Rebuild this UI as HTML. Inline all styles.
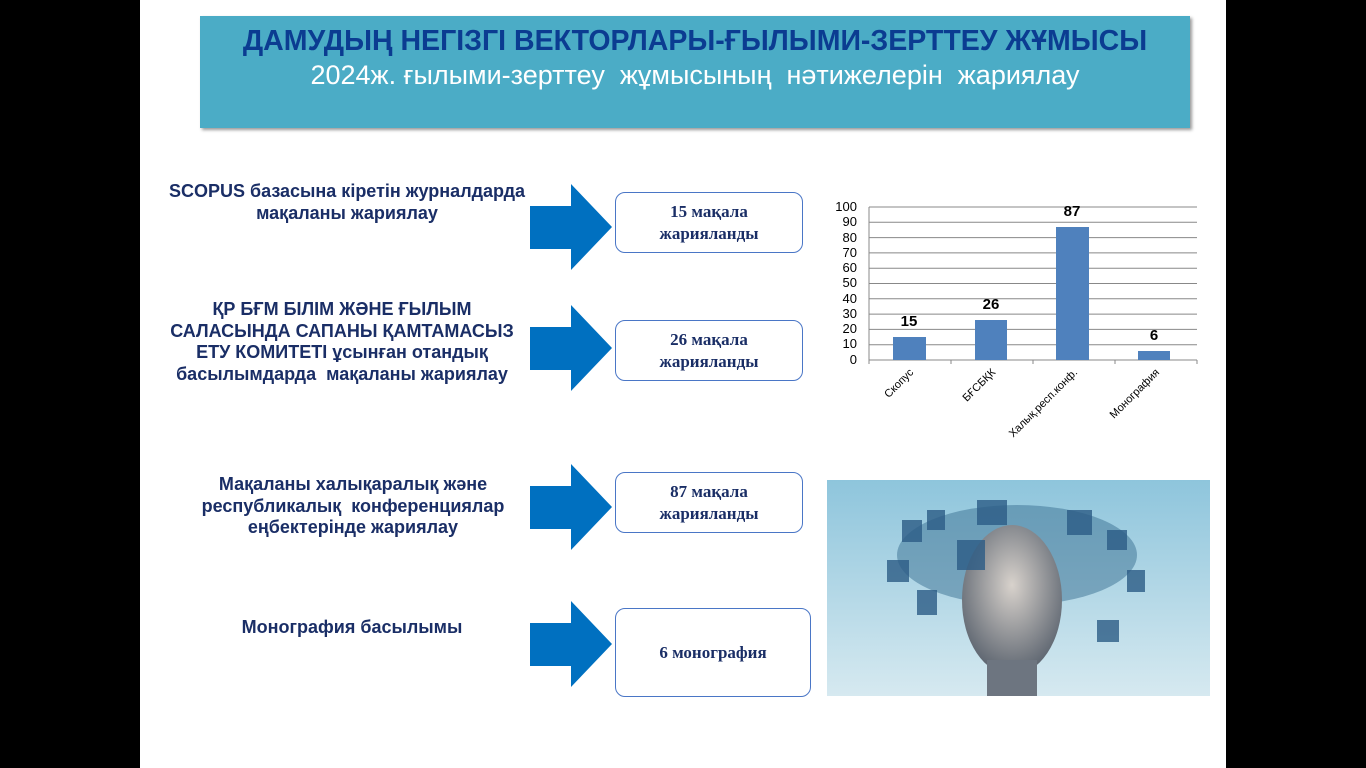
<!DOCTYPE html>
<html><head><meta charset="utf-8"><style>
body{margin:0;width:1366px;height:768px;background:#000;position:relative;overflow:hidden;font-family:"Liberation Sans",sans-serif}
#slide{position:absolute;left:140px;top:0;width:1086px;height:768px;background:#fff}
.hdr{position:absolute;left:200px;top:16px;width:990px;height:112px;background:#4bacc6;box-shadow:2px 2px 3px #999;text-align:center}
.t1{color:#0b3c91;font-weight:bold;font-size:28.5px;margin-top:9px;line-height:32px;white-space:nowrap}
.t2{color:#fff;font-size:27px;line-height:36px;white-space:nowrap}
.lbl{position:absolute;color:#1a2e66;font-weight:bold;font-size:18px;text-align:center;line-height:21.5px;white-space:nowrap}
.box{position:absolute;border:1px solid #4a76c6;border-radius:10px;background:#fff;display:flex;align-items:center;justify-content:center;text-align:center;font-family:"Liberation Serif",serif;font-weight:bold;font-size:17px;color:#1a2e66;line-height:22px}
.arr{position:absolute;left:530px}
</style></head><body>
<div id="slide"></div>
<div class="hdr"><div class="t1">ДАМУДЫҢ НЕГІЗГІ ВЕКТОРЛАРЫ-ҒЫЛЫМИ-ЗЕРТТЕУ ЖҰМЫСЫ</div><div class="t2">2024ж. ғылыми-зерттеу&nbsp; жұмысының&nbsp; нәтижелерін&nbsp; жариялау</div></div>

<div class="lbl" style="left:147px;top:181px;width:400px">SCOPUS базасына кіретін журналдарда<br>мақаланы жариялау</div>
<div class="lbl" style="left:142px;top:299px;width:400px">ҚР БҒМ БІЛІМ ЖӘНЕ ҒЫЛЫМ<br>САЛАСЫНДА САПАНЫ ҚАМТАМАСЫЗ<br>ЕТУ КОМИТЕТІ ұсынған отандық<br>басылымдарда&nbsp; мақаланы жариялау</div>
<div class="lbl" style="left:153px;top:474px;width:400px">Мақаланы халықаралық және<br>республикалық&nbsp; конференциялар<br>еңбектерінде жариялау</div>
<div class="lbl" style="left:152px;top:617px;width:400px">Монография басылымы</div>

<svg class="arr" style="top:184px" width="84" height="87"><polygon points="0,22 41,22 41,0 82,43 41,86 41,65 0,65" fill="#0070c0"/></svg>
<svg class="arr" style="top:305px" width="84" height="87"><polygon points="0,22 41,22 41,0 82,43 41,86 41,65 0,65" fill="#0070c0"/></svg>
<svg class="arr" style="top:464px" width="84" height="87"><polygon points="0,22 41,22 41,0 82,43 41,86 41,65 0,65" fill="#0070c0"/></svg>
<svg class="arr" style="top:601px" width="84" height="87"><polygon points="0,22 41,22 41,0 82,43 41,86 41,65 0,65" fill="#0070c0"/></svg>

<div class="box" style="left:615px;top:192px;width:186px;height:59px">15 мақала<br>жарияланды</div>
<div class="box" style="left:615px;top:320px;width:186px;height:59px">26 мақала<br>жарияланды</div>
<div class="box" style="left:615px;top:472px;width:186px;height:59px">87 мақала<br>жарияланды</div>
<div class="box" style="left:615px;top:608px;width:194px;height:87px">6 монография</div>

<svg style="position:absolute;left:830px;top:195px" width="380" height="260" font-family="Liberation Sans, sans-serif">
<g stroke="#888" stroke-width="1">
<line x1="39" y1="12" x2="367" y2="12"/><line x1="39" y1="27.3" x2="367" y2="27.3"/><line x1="39" y1="42.6" x2="367" y2="42.6"/><line x1="39" y1="57.9" x2="367" y2="57.9"/><line x1="39" y1="73.2" x2="367" y2="73.2"/><line x1="39" y1="88.5" x2="367" y2="88.5"/><line x1="39" y1="103.8" x2="367" y2="103.8"/><line x1="39" y1="119.1" x2="367" y2="119.1"/><line x1="39" y1="134.4" x2="367" y2="134.4"/><line x1="39" y1="149.7" x2="367" y2="149.7"/><line x1="39" y1="165" x2="367" y2="165"/>
<line x1="39" y1="12" x2="39" y2="169"/>
<line x1="121" y1="165" x2="121" y2="169"/><line x1="203" y1="165" x2="203" y2="169"/><line x1="285" y1="165" x2="285" y2="169"/><line x1="367" y1="165" x2="367" y2="169"/>
</g>
<g fill="#000" font-size="13" text-anchor="end">
<text x="27" y="16">100</text><text x="27" y="31">90</text><text x="27" y="47">80</text><text x="27" y="62">70</text><text x="27" y="77">60</text><text x="27" y="92">50</text><text x="27" y="108">40</text><text x="27" y="123">30</text><text x="27" y="138">20</text><text x="27" y="153">10</text><text x="27" y="169">0</text>
</g>
<g fill="#4f81bd">
<rect x="63" y="142" width="33" height="23"/><rect x="145" y="125" width="32" height="40"/><rect x="226" y="32" width="33" height="133"/><rect x="308" y="156" width="32" height="9"/>
</g>
<g font-weight="bold" font-size="15" text-anchor="middle" fill="#000">
<text x="79" y="131">15</text><text x="161" y="114">26</text><text x="242" y="21">87</text><text x="324" y="145">6</text>
</g>
<g font-size="11" fill="#000" text-anchor="end">
<text transform="translate(84,178) rotate(-45)">Скопус</text>
<text transform="translate(166,178) rotate(-45)">БҒСБҚК</text>
<text transform="translate(248,178) rotate(-45)">Халық.респ.конф.</text>
<text transform="translate(330,178) rotate(-45)">Монография</text>
</g>
</svg>

<svg style="position:absolute;left:827px;top:480px" width="383" height="216">
<defs><linearGradient id="bg" x1="0" y1="0" x2="0" y2="1"><stop offset="0" stop-color="#8ec5dc"/><stop offset="1" stop-color="#d6e9f0"/></linearGradient>
<radialGradient id="face" cx="0.5" cy="0.4" r="0.6"><stop offset="0" stop-color="#d8d2cc"/><stop offset="1" stop-color="#5d6570"/></radialGradient></defs>
<rect width="383" height="216" fill="url(#bg)"/>
<ellipse cx="190" cy="75" rx="120" ry="50" fill="#3a6f92" opacity="0.5"/>
<ellipse cx="185" cy="120" rx="50" ry="75" fill="url(#face)"/>
<rect x="160" y="180" width="50" height="40" fill="#6d7580"/>
<g fill="#2c5c86" opacity="0.8">
<rect x="75" y="40" width="20" height="22"/><rect x="100" y="30" width="18" height="20"/><rect x="60" y="80" width="22" height="22"/><rect x="280" y="50" width="20" height="20"/><rect x="300" y="90" width="18" height="22"/><rect x="150" y="20" width="30" height="25"/><rect x="240" y="30" width="25" height="25"/><rect x="130" y="60" width="28" height="30"/><rect x="90" y="110" width="20" height="25"/><rect x="270" y="140" width="22" height="22"/>
</g>
</svg>
</body></html>
